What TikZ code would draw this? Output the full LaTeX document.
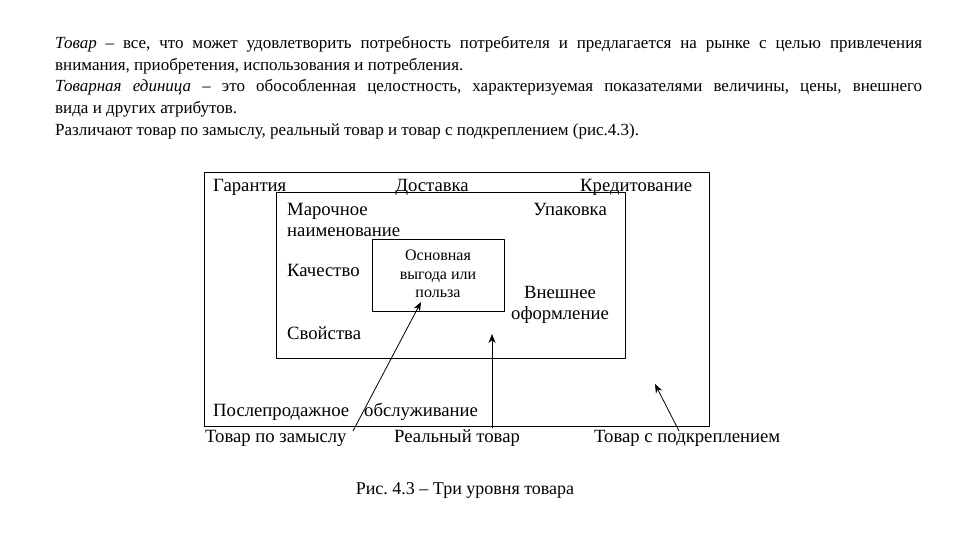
\documentclass[tikz,border=0pt]{standalone}
\usepackage{fontspec}
\setmainfont{Liberation Serif}
\usetikzlibrary{arrows.meta}
\frenchspacing
\begin{document}
\begin{tikzpicture}[x=1pt, y=-1pt, line cap=round, line join=round, >={Stealth[length=9pt,width=7pt]},
  font=\fontsize{18.7}{21}\selectfont,
  box/.style={draw, line width=0.9pt},
  lbl/.style={inner sep=0pt, anchor=base west},
  arr/.style={->, line width=0.8pt}]
\useasboundingbox (0,0) rectangle (960,540);
\node[anchor=north west, text width=867pt, align=justify, inner sep=0pt,
  font=\fontsize{17}{21.8}\selectfont] (intro) at (55,36)
  {\emph{Товар} – все, что может удовлетворить потребность потребителя и предлагается на рынке с целью привлечения\linebreak внимания, приобретения, использования и потребления.\par
   \emph{Товарная единица} – это обособленная целостность, характеризуемая показателями величины, цены, внешнего\linebreak вида и других атрибутов.\par
   Различают товар по замыслу, реальный товар и товар с подкреплением (рис.4.3).};
% levels
\draw[box] (204,172) rectangle (709,426);
\draw[box] (276,192) rectangle (625,358);
\draw[box] (372,239) rectangle (504,311);
% outer level
\node[lbl] (garant) at (213,191) {Гарантия};
\node[lbl, anchor=base] (dost) at (432,191) {Доставка};
\node[lbl] (kredit) at (580,191) {Кредитование};
\node[lbl] (servis) at (213,416) {Послепродажное\hspace{15pt}обслуживание};
% middle level
\node[lbl, align=left, anchor=north west] (marka) at (287,203) {Марочное\\наименование};
\node[lbl, anchor=base east] (upak) at (607,215) {Упаковка};
\node[lbl] (kach) at (287,276) {Качество};
\node[lbl, align=center, anchor=north] (vnesh) at (560,286) {Внешнее\\оформление};
\node[lbl] (svoj) at (287,339) {Свойства};
% core
\node[align=center, inner sep=0pt, font=\fontsize{16}{18.5}\selectfont] (core) at (438,274)
  {Основная\\выгода или\\польза};
% bottom labels
\node[lbl] (zamysel) at (205,442) {Товар по замыслу};
\node[lbl] (real) at (394,442) {Реальный товар};
\node[lbl] (augm) at (594,442) {Товар с подкреплением};
\node[inner sep=0pt, font=\fontsize{18}{20}\selectfont] (caption) at (465,490) {Рис. 4.3 – Три уровня товара};
% arrows
\coordinate (zamStart) at (353,431);
\coordinate (coreTip) at (421,302);
\coordinate (realStart) at (492,428);
\coordinate (realTip) at (492,334);
\coordinate (augStart) at (679,431);
\coordinate (augTip) at (655,384);
\draw[arr] (zamStart) -- (coreTip);
\draw[arr] (realStart) -- (realTip);
\draw[arr] (augStart) -- (augTip);
\end{tikzpicture}
\end{document}
